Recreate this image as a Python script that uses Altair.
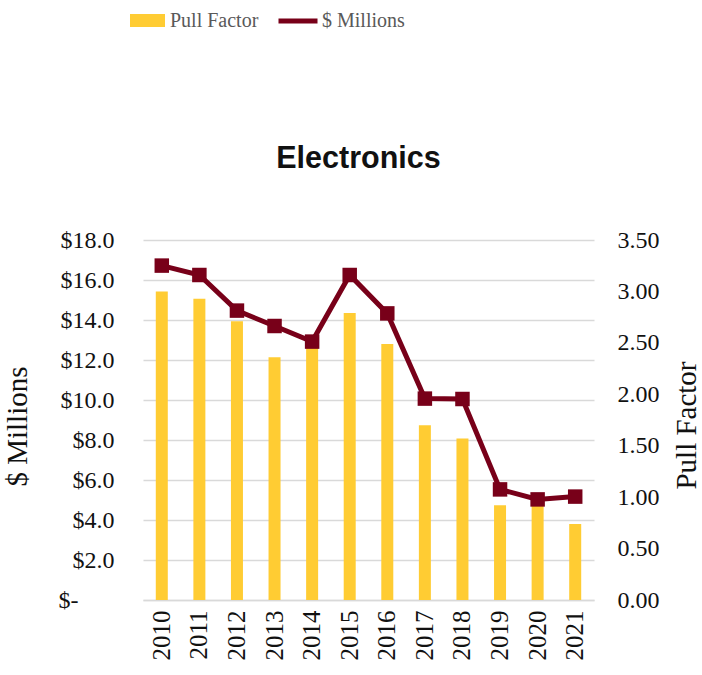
import altair as alt
import pandas as pd

years = ["2010", "2011", "2012", "2013", "2014", "2015", "2016", "2017", "2018", "2019", "2020", "2021"]
pull_factor = [3.00, 2.93, 2.71, 2.36, 2.45, 2.79, 2.49, 1.70, 1.57, 0.92, 0.93, 0.74]
millions = [16.72, 16.25, 14.47, 13.70, 12.92, 16.25, 14.33, 10.07, 10.05, 5.53, 5.03, 5.17]
left_ticks = [0, 2, 4, 6, 8, 10, 12, 14, 16, 18]
right_ticks = [0, 0.5, 1, 1.5, 2, 2.5, 3, 3.5]

df = pd.DataFrame({"year": years, "pull": pull_factor, "millions": millions})

SERIF = "Liberation Serif"
YELLOW = "#FFCC33"
MAROON = "#780019"
GRID = "#D9D9D9"

x_axis = alt.Axis(
    title=None, labelAngle=270, labelFont=SERIF, labelFontSize=25,
    labelColor="#111111", labelPadding=10, ticks=False,
    domainColor=GRID, domainWidth=1.5, grid=False,
)
x_scale = alt.Scale(paddingInner=0, paddingOuter=0)
x_enc = alt.X("year:N", sort=years, scale=x_scale, axis=x_axis)

left_axis = alt.Axis(
    orient="left", title="$ Millions", values=left_ticks,
    labelExpr="datum.value == 0 ? '$-\u2800\u2800' : '$' + format(datum.value, '.1f')",
    labelFont=SERIF, labelFontSize=24, labelColor="#111111", labelOverlap=False,
    labelPadding=29, ticks=False, domain=False, grid=True, gridColor=GRID, gridWidth=1.5,
    titleFont=SERIF, titleFontSize=29, titleFontWeight="normal", titleColor="#111111",
    titleAngle=270, titleX=-126, titleY=186, titleAlign="center", titleBaseline="middle",
)
left_scale = alt.Scale(domain=[0, 18], nice=False, zero=True)

bars = alt.Chart(df).transform_calculate(s1="'Pull Factor'").mark_bar(size=12).encode(
    x=x_enc,
    y=alt.Y(
        "pull:Q",
        scale=alt.Scale(domain=[0, 3.5], nice=False, zero=True),
        axis=alt.Axis(
            orient="right", title="Pull Factor", values=right_ticks,
            format=".2f", labelFont=SERIF, labelFontSize=24, labelColor="#111111",
            labelPadding=23, labelOverlap=False, ticks=False, domain=False, grid=False,
            titleFont=SERIF, titleFontSize=29, titleFontWeight="normal", titleColor="#111111",
            titleAngle=270, titleX=92, titleY=185, titleAlign="center", titleBaseline="middle",
        ),
    ),
    color=alt.Color(
        "s1:N",
        scale=alt.Scale(domain=["Pull Factor"], range=[YELLOW]),
        legend=alt.Legend(
            title=None, orient="none", legendX=-13, legendY=-237, padding=0,
            symbolType="M-1,-0.37H1V0.37H-1Z", symbolSize=1225, symbolStrokeWidth=0,
            labelFont=SERIF, labelFontSize=20, labelColor="#595959", labelOffset=5,
        ),
    ),
)

line = alt.Chart(df).transform_calculate(s2="'$ Millions'").mark_line(strokeWidth=5).encode(
    x=x_enc,
    y=alt.Y("millions:Q", scale=left_scale, axis=left_axis),
    stroke=alt.Stroke(
        "s2:N",
        scale=alt.Scale(domain=["$ Millions"], range=[MAROON]),
        legend=alt.Legend(
            title=None, orient="none", legendX=133, legendY=-241, padding=0,
            symbolType="stroke", symbolSize=1521, symbolStrokeWidth=5,
            labelFont=SERIF, labelFontSize=20, labelColor="#595959", labelOffset=2,
        ),
    ),
)

points = alt.Chart(df).mark_point(shape="square", filled=True, size=210, color=MAROON, opacity=1).encode(
    x=x_enc,
    y=alt.Y("millions:Q", scale=left_scale, axis=left_axis),
)

chart = alt.layer(bars, alt.layer(line, points)).resolve_scale(y="independent").properties(
    width=451,
    height=360,
    autosize=alt.AutoSizeParams(type="none"),
    padding={"left": 143, "top": 240, "right": 108, "bottom": 75},
    title=alt.Title(
        "Electronics", font="Liberation Sans", fontSize=30.5, fontWeight="bold",
        color="#111111", anchor="middle", frame="group", offset=0, dy=199, dx=-10,
        baseline="alphabetic",
    ),
).configure_view(stroke=None)

chart.save("out.html", embed_options={"renderer": "svg", "actions": False})
